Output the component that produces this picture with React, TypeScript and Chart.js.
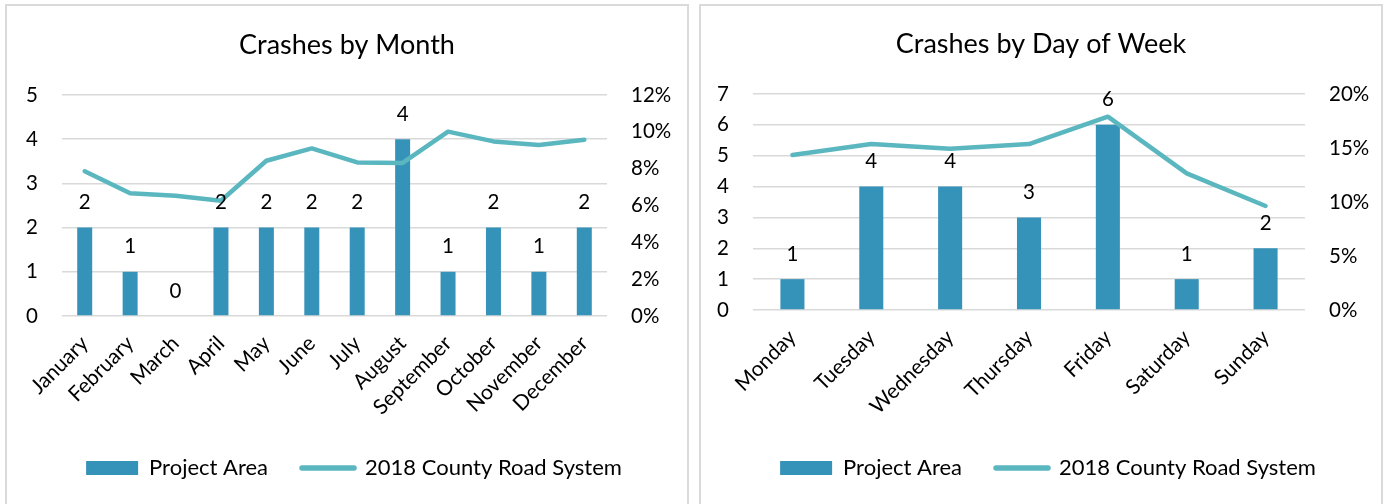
import React, { useEffect, useRef } from "react";
import { Chart, registerables } from "chart.js";

Chart.register(...registerables);

// ---- Data ----
const monthLabels = [
  "January", "February", "March", "April", "May", "June",
  "July", "August", "September", "October", "November", "December",
];
const monthProjectArea = [2, 1, 0, 2, 2, 2, 2, 4, 1, 2, 1, 2];
const monthCountyPct = [7.86, 6.66, 6.53, 6.26, 8.43, 9.1, 8.34, 8.31, 10.01, 9.48, 9.29, 9.57];

const dayLabels = ["Monday", "Tuesday", "Wednesday", "Thursday", "Friday", "Saturday", "Sunday"];
const dayProjectArea = [1, 4, 4, 3, 6, 1, 2];
const dayCountyPct = [14.35, 15.37, 14.94, 15.37, 17.9, 12.65, 9.63];

const seriesNames = ["Project Area", "2018 County Road System"];

const BAR_COLOR = "#3592b9";
const LINE_COLOR = "#5bb7bf";
const GRID_COLOR = "#d9d9d9";
const TEXT_COLOR = "#000000";
const FONT = "Lato";

const CANVAS_W = 680;
const CANVAS_H = 498;

const TICK_SIZE = 20.5;
const CAT_SIZE = 21;
const LABEL_SIZE = 20.5;
const LEGEND_SIZE = 22;
const TITLE_SIZE = 27;

type PanelProps = {
  left: number;
  title: string;
  labels: string[];
  bars: number[];
  line: number[];
  yMax: number;
  yStep: number;
  y2Max: number;
  y2Step: number;
  leftAxisW: number;
  rightAxisW: number;
  titleCenter: number;
  plotTop: number;
  plotBottom: number;
  barPct: number;
};

const barLabelPlugin = {
  id: "barLabels",
  afterDatasetsDraw(chart: any) {
    const ctx = chart.ctx;
    const meta = chart.getDatasetMeta(0);
    const data = chart.data.datasets[0].data;
    ctx.save();
    ctx.font = `${LABEL_SIZE}px ${FONT}`;
    ctx.fillStyle = TEXT_COLOR;
    ctx.textAlign = "center";
    ctx.textBaseline = "middle";
    meta.data.forEach((el: any, i: number) => {
      ctx.fillText(String(data[i]), el.x, el.y - 25);
    });
    ctx.restore();
  },
};

const centeredTitlePlugin = {
  id: "centeredTitle",
  afterDraw(chart: any, _args: any, opts: any) {
    const ctx = chart.ctx;
    ctx.save();
    ctx.font = `${TITLE_SIZE}px ${FONT}`;
    ctx.fillStyle = TEXT_COLOR;
    ctx.textAlign = "center";
    ctx.textBaseline = "middle";
    ctx.fillText(opts.text, chart.width / 2, opts.y);
    ctx.restore();
  },
};

function Panel(p: PanelProps) {
  const ref = useRef<HTMLCanvasElement | null>(null);
  useEffect(() => {
    if (!ref.current) return;
    const legendPad = 34;
    const legendCenter = 462;
    const itemH = Math.max(LEGEND_SIZE, 14);
    const legendTop = legendCenter - itemH / 2 - legendPad;
    const legendBottom = legendTop + legendPad + itemH + 10;
    const xAxisH = legendTop - p.plotBottom;
    const padLeft = 14;
    const chart = new Chart(ref.current, {
      type: "bar",
      data: {
        labels: p.labels,
        datasets: [
          {
            type: "bar",
            label: seriesNames[0],
            data: p.bars,
            backgroundColor: BAR_COLOR,
            barPercentage: p.barPct,
            categoryPercentage: 1,
            yAxisID: "y",
            order: 1,
          },
          {
            type: "line",
            label: seriesNames[1],
            data: p.line,
            borderColor: LINE_COLOR,
            backgroundColor: LINE_COLOR,
            borderWidth: 4.5,
            pointRadius: 0,
            tension: 0,
            borderCapStyle: "round",
            borderJoinStyle: "round",
            yAxisID: "y2",
            order: 0,
          },
        ] as any,
      },
      options: {
        animation: false,
        responsive: false,
        devicePixelRatio: 1,
        layout: { padding: { left: padLeft, right: 0, top: p.plotTop, bottom: CANVAS_H - legendBottom } },
        plugins: {
          tooltip: { enabled: false },
          title: { display: false },
          centeredTitle: { text: p.title, y: p.titleCenter },
          legend: {
            position: "bottom",
            labels: {
              usePointStyle: true,
              pointStyleWidth: 52,
              boxHeight: 14,
              padding: legendPad,
              color: TEXT_COLOR,
              font: { family: FONT, size: LEGEND_SIZE },
              sort: (a: any, b: any) => a.datasetIndex - b.datasetIndex,
              generateLabels: (chart: any) => {
                const items = Chart.defaults.plugins.legend.labels.generateLabels(chart);
                return items.map((it: any) => {
                  if (it.datasetIndex === 0) {
                    return { ...it, pointStyle: "rect", lineWidth: 0, fillStyle: BAR_COLOR };
                  }
                  return {
                    ...it,
                    pointStyle: "line",
                    lineWidth: 5.5,
                    strokeStyle: LINE_COLOR,
                    fillStyle: LINE_COLOR,
                    lineCap: "round",
                  };
                });
              },
            },
          },
        },
        scales: {
          x: {
            grid: { display: false },
            border: { display: false },
            ticks: {
              autoSkip: false,
              maxRotation: 45,
              minRotation: 45,
              padding: 7,
              color: TEXT_COLOR,
              font: { family: FONT, size: CAT_SIZE },
            },
            afterFit: (s: any) => {
              s.height = xAxisH;
            },
          },
          y: {
            position: "left",
            min: 0,
            max: p.yMax,
            ticks: {
              stepSize: p.yStep,
              padding: 24,
              color: TEXT_COLOR,
              font: { family: FONT, size: TICK_SIZE },
            },
            grid: { color: GRID_COLOR, lineWidth: 1.5, drawTicks: false },
            border: { display: false },
            afterFit: (s: any) => {
              s.width = p.leftAxisW - padLeft;
            },
          },
          y2: {
            position: "right",
            min: 0,
            max: p.y2Max,
            ticks: {
              stepSize: p.y2Step,
              padding: 24,
              color: TEXT_COLOR,
              font: { family: FONT, size: TICK_SIZE },
              callback: (v: any) => `${v}%`,
            },
            grid: { display: false, drawTicks: false },
            border: { display: false },
            afterFit: (s: any) => {
              s.width = p.rightAxisW;
            },
          },
        },
      } as any,
      plugins: [barLabelPlugin, centeredTitlePlugin],
    });
    return () => chart.destroy();
  }, []);

  return (
    <div
      style={{
        position: "absolute",
        left: p.left,
        top: 4,
        width: CANVAS_W,
        height: CANVAS_H + 20,
        border: "2px solid #dadada",
        background: "#fff",
      }}
    >
      <canvas ref={ref} width={CANVAS_W} height={CANVAS_H} style={{ display: "block" }} />
    </div>
  );
}

export default function App() {
  return (
    <div
      style={{
        position: "fixed",
        left: 0,
        top: 0,
        width: 1386,
        height: 504,
        overflow: "hidden",
        background: "#fff",
      }}
    >
      <Panel
        left={5}
        title="Crashes by Month"
        labels={monthLabels}
        bars={monthProjectArea}
        line={monthCountyPct}
        yMax={5}
        yStep={1}
        y2Max={12}
        y2Step={2}
        leftAxisW={55}
        rightAxisW={80}
        titleCenter={39}
        plotTop={89}
        plotBottom={310}
        barPct={0.33}
      />
      <Panel
        left={699}
        title="Crashes by Day of Week"
        labels={dayLabels}
        bars={dayProjectArea}
        line={dayCountyPct}
        yMax={7}
        yStep={1}
        y2Max={20}
        y2Step={5}
        leftAxisW={52}
        rightAxisW={76}
        titleCenter={38}
        plotTop={88}
        plotBottom={304}
        barPct={0.305}
      />
    </div>
  );
}
